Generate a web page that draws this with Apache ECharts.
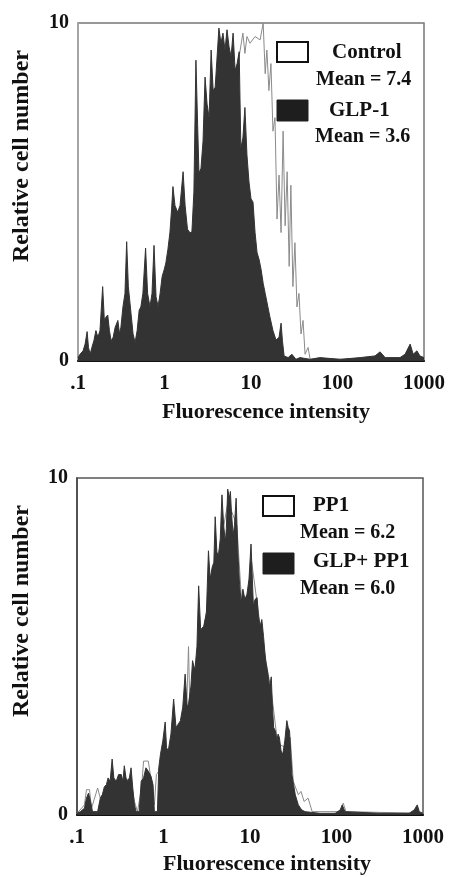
<!DOCTYPE html>
<html>
<head>
<meta charset="utf-8">
<script src="https://cdn.jsdelivr.net/npm/echarts@6/dist/echarts.min.js"></script>
<style>
html,body{margin:0;padding:0;background:#fff;}
#chart{width:449px;height:877px;}
</style>
</head>
<body>
<div id="chart"></div>
<script>
// Tick labels (log decades over 1024 channels)
const xTickLabels = ['.1', '1', '10', '100', '1000'];
const xTitle = 'Fluorescence intensity';
const yTitle = 'Relative cell number';

// Panel A legend
const legendA = ['Control', 'GLP-1'];
const meansA = ['Mean = 7.4', 'Mean = 3.6'];
// Panel B legend
const legendB = ['PP1', 'GLP+ PP1'];
const meansB = ['Mean = 6.2', 'Mean = 6.0'];

// Panel A: [channel, relative cell number]
const controlA = [[0,0],[50,0.2],[95,0.4],[139,0.8],[169,0.5],[198,1.2],[243,1.8],[272,3.0],[302,3.5],[331,3.5],[361,5.0],[391,6.5],[420,8.5],[450,8.8],[468,8.5],[480,9.2],[488,9.7],[494,9.1],[500,9.6],[509,9.4],[524,9.6],[539,9.5],[548,10.0],[554,8.5],[559,9.2],[565,8.0],[571,8.8],[577,6.8],[583,7.2],[589,4.2],[595,5.5],[601,3.8],[607,6.8],[613,4.0],[619,5.6],[625,2.8],[630,5.2],[636,2.2],[642,3.5],[648,1.6],[654,2.0],[660,0.8],[666,1.2],[672,0.2],[681,0.4],[687,0.05],[1024,0.05]];
const glp1A = [[0,0.1],[6,0.2],[15,0.3],[21,0.5],[27,0.87],[31,0.4],[36,0.2],[41,0.4],[47,0.6],[53,0.9],[59,0.7],[65,0.9],[73,2.2],[78,1.2],[83,1.3],[88,1.36],[93,0.9],[98,0.6],[104,0.7],[110,1.0],[118,1.2],[123,0.8],[127,1.0],[133,1.6],[139,2.0],[144,3.53],[149,2.2],[157,1.4],[163,0.8],[169,0.55],[175,0.9],[181,1.5],[186,1.6],[192,2.0],[200,3.34],[206,2.0],[213,1.6],[219,2.0],[225,3.42],[231,1.9],[237,1.6],[243,2.0],[249,2.5],[255,2.7],[260,2.9],[266,3.3],[272,3.8],[277,4.5],[281,5.16],[287,4.6],[295,4.4],[302,4.6],[311,5.6],[317,4.6],[324,3.9],[331,3.8],[337,3.8],[343,5.0],[349,8.9],[354,7.0],[358,5.56],[364,5.7],[370,6.5],[376,8.4],[382,7.6],[388,7.2],[394,9.2],[400,8.0],[406,8.1],[411,8.9],[417,9.85],[423,9.4],[429,9.7],[435,9.2],[441,9.8],[447,9.3],[453,9.0],[459,9.7],[465,8.6],[471,8.8],[477,9.15],[482,6.3],[488,6.6],[494,7.5],[500,6.1],[506,5.3],[512,4.8],[518,4.7],[524,3.8],[530,3.2],[536,3.0],[542,2.7],[548,2.3],[554,2.0],[562,1.6],[568,1.3],[577,0.9],[586,0.62],[595,0.7],[601,1.12],[605,0.6],[610,0.15],[622,0.1],[633,0.2],[645,0.05],[657,0.1],[687,0.05],[716,0.1],[776,0.05],[835,0.1],[879,0.15],[894,0.27],[909,0.1],[953,0.1],[968,0.2],[983,0.5],[992,0.2],[1003,0.3],[1012,0.15],[1024,0.1]];

// Panel B: [channel, relative cell number]
const pp1B = [[0,0.05],[22,0.3],[28,0.75],[37,0.75],[43,0.2],[52,0.5],[61,0.8],[69,0.5],[81,0.7],[99,0.9],[114,0.8],[129,1.0],[143,1.0],[158,1.1],[170,0.4],[179,0.1],[191,0.8],[197,1.6],[211,1.6],[220,1.0],[229,0.3],[235,1.2],[242,1.3],[247,1.5],[278,2.0],[306,2.6],[324,3.0],[330,5.0],[334,3.2],[352,4.0],[362,5.3],[368,5.0],[394,6.8],[424,8.0],[447,9.3],[473,8.6],[488,6.2],[502,6.2],[517,7.5],[541,5.7],[562,4.4],[576,3.6],[594,2.1],[621,2.0],[631,2.3],[640,1.0],[655,0.6],[663,0.7],[672,0.4],[684,0.5],[696,0.1],[779,0.1],[788,0.35],[796,0.1],[1024,0.05]];
const glpPp1B = [[0,0.05],[10,0.1],[22,0.2],[28,0.5],[34,0.65],[40,0.4],[46,0.1],[61,0.1],[69,0.5],[75,0.6],[81,0.84],[87,0.9],[92,1.1],[98,1.0],[104,1.66],[109,1.1],[116,1.0],[123,1.2],[131,1.2],[136,1.0],[140,1.46],[145,1.1],[150,1.0],[155,1.1],[160,1.4],[165,0.8],[170,0.3],[175,0.1],[184,0.1],[190,1.0],[197,1.1],[204,1.4],[211,1.3],[219,1.15],[225,0.9],[229,0.1],[238,0.1],[242,1.4],[247,1.8],[254,2.2],[261,2.76],[265,2.0],[270,1.9],[278,2.4],[286,3.44],[293,2.6],[300,2.7],[306,2.8],[313,3.2],[320,4.18],[326,3.2],[330,3.3],[337,3.8],[342,4.58],[349,4.3],[355,5.0],[360,6.8],[366,5.5],[375,5.6],[383,6.0],[389,7.84],[394,7.0],[400,7.35],[405,7.5],[409,8.85],[414,7.8],[419,7.7],[424,8.2],[429,9.5],[434,8.6],[439,8.1],[442,8.5],[446,9.67],[451,9.4],[454,9.6],[457,9.0],[462,8.3],[466,8.6],[471,9.4],[476,7.8],[481,6.85],[486,6.3],[491,6.7],[497,6.4],[503,6.55],[509,7.0],[515,8.04],[519,7.0],[522,6.2],[527,6.4],[533,6.45],[537,5.9],[542,5.6],[547,5.8],[552,5.3],[558,4.6],[565,4.18],[570,3.8],[575,4.1],[578,3.3],[582,2.6],[587,2.5],[592,2.2],[595,2.4],[599,2.3],[604,1.9],[609,1.8],[615,2.2],[621,2.8],[625,2.6],[629,2.5],[636,1.2],[641,0.9],[646,0.6],[655,0.3],[665,0.15],[675,0.1],[719,0.05],[764,0.05],[779,0.15],[785,0.3],[793,0.1],[894,0.05],[983,0.05],[998,0.15],[1007,0.3],[1013,0.1],[1024,0.05]];

const SERIF = '"Liberation Serif", "Times New Roman", serif';
const FILL = '#333333';
const OUTLINE = '#8a8a8a';

function xAxisFor(gi) {
  return {
    type: 'value', gridIndex: gi, min: 0, max: 1024, interval: 256,
    axisLine: { show: true, lineStyle: { color: '#111', width: 2 } },
    axisTick: { show: false },
    splitLine: { show: false },
    axisLabel: {
      margin: 12, color: '#111', fontFamily: SERIF, fontWeight: 'bold', fontSize: 21,
      formatter: v => xTickLabels[Math.round(v / 256)]
    }
  };
}
function yAxisFor(gi, lineColor) {
  return {
    type: 'value', gridIndex: gi, min: 0, max: 10, interval: 10,
    axisLine: { show: true, lineStyle: { color: lineColor, width: 1.5 } },
    axisTick: { show: false },
    splitLine: { show: false },
    axisLabel: { margin: 9, color: '#111', fontFamily: SERIF, fontWeight: 'bold', fontSize: 20 }
  };
}
function outlineSeries(data, gi) {
  return { type: 'line', xAxisIndex: gi, yAxisIndex: gi, data: data, showSymbol: false,
    silent: true, z: 2, lineStyle: { color: OUTLINE, width: 1 } };
}
function filledSeries(data, gi) {
  return { type: 'line', xAxisIndex: gi, yAxisIndex: gi, data: data, showSymbol: false,
    silent: true, z: 3, lineStyle: { color: FILL, width: 1 }, areaStyle: { color: FILL, opacity: 1 } };
}
function legendBlock(x0, yBox1, yBox2, names, means, nameX, meanX, nameY, meanY) {
  const els = [];
  els.push({ type: 'rect', shape: { x: x0, y: yBox1, width: 31, height: 20 },
    style: { fill: '#fff', stroke: '#111', lineWidth: 2 } });
  els.push({ type: 'rect', shape: { x: x0, y: yBox2, width: 31, height: 21 },
    style: { fill: '#1e1e1e', stroke: '#1e1e1e', lineWidth: 1 } });
  for (let i = 0; i < 2; i++) {
    els.push({ type: 'text', x: nameX[i], y: nameY[i], style: { text: names[i], fill: '#111',
      font: 'bold 21px ' + SERIF, textAlign: 'left', textVerticalAlign: 'middle' } });
    els.push({ type: 'text', x: meanX[i], y: meanY[i], style: { text: means[i], fill: '#111',
      font: 'bold 20px ' + SERIF, textAlign: 'left', textVerticalAlign: 'middle' } });
  }
  return els;
}

const chart = echarts.init(document.getElementById('chart'), null, { renderer: 'canvas' });
chart.setOption({
  animation: false,
  backgroundColor: '#ffffff',
  grid: [
    { left: 78, top: 23, width: 346, height: 338, show: true, borderColor: '#777', borderWidth: 1.5, backgroundColor: 'transparent' },
    { left: 77, top: 478, width: 346, height: 337, show: true, borderColor: '#555', borderWidth: 1.5, backgroundColor: 'transparent' }
  ],
  xAxis: [xAxisFor(0), xAxisFor(1)],
  yAxis: [yAxisFor(0, '#aaa'), yAxisFor(1, '#444')],
  series: [
    outlineSeries(controlA, 0), filledSeries(glp1A, 0),
    outlineSeries(pp1B, 1), filledSeries(glpPp1B, 1)
  ],
  graphic: [].concat(
    [
      { type: 'text', x: 22, y: 156, rotation: Math.PI / 2,
        style: { text: yTitle, fill: '#111', font: 'bold 24px ' + SERIF, textAlign: 'center', textVerticalAlign: 'middle' } },
      { type: 'text', x: 22, y: 611, rotation: Math.PI / 2,
        style: { text: yTitle, fill: '#111', font: 'bold 24px ' + SERIF, textAlign: 'center', textVerticalAlign: 'middle' } },
      { type: 'text', x: 266, y: 412,
        style: { text: xTitle, fill: '#111', font: 'bold 22px ' + SERIF, textAlign: 'center', textVerticalAlign: 'middle' } },
      { type: 'text', x: 267, y: 864,
        style: { text: xTitle, fill: '#111', font: 'bold 22px ' + SERIF, textAlign: 'center', textVerticalAlign: 'middle' } }
    ],
    legendBlock(277, 42, 100, legendA, meansA, [332, 329], [316, 315], [53, 111], [80, 137]),
    legendBlock(263, 496, 553, legendB, meansB, [313, 313], [300, 300], [506, 562], [533, 589])
  )
});
</script>
</body>
</html>
